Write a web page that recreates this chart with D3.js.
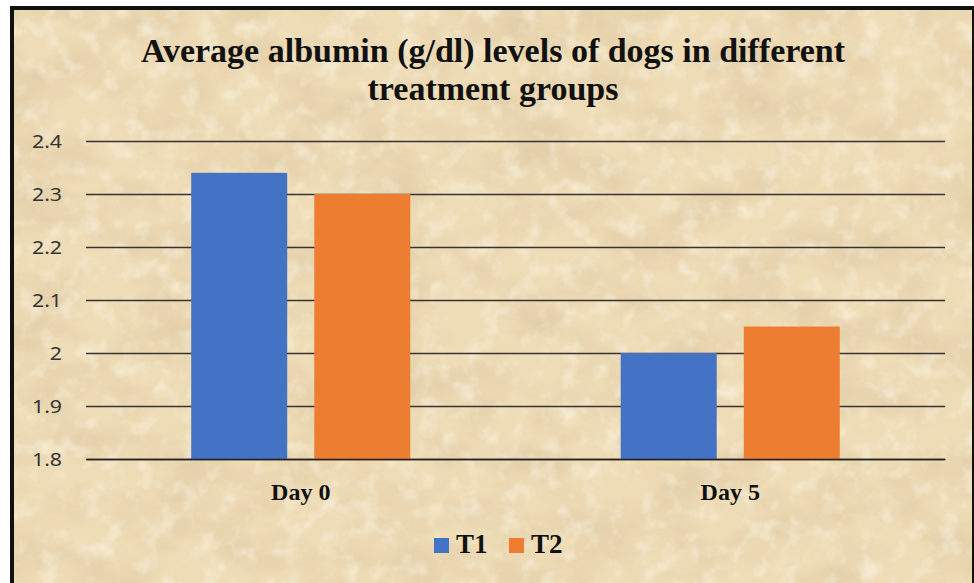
<!DOCTYPE html>
<html>
<head>
<meta charset="utf-8">
<script src="https://cdn.jsdelivr.net/npm/d3@7"></script>
<style>
  body { margin: 0; background: #fff; }
  svg { display: block; }
</style>
</head>
<body>
<div id="chart"></div>
<script>
const categories = ["Day 0", "Day 5"];
const series = ["T1", "T2"];
const t1Values = [2.34, 2.0];
const t2Values = [2.3, 2.05];
const yTicks = [1.8, 1.9, 2.0, 2.1, 2.2, 2.3, 2.4];
const titleLines = ["Average albumin (g/dl) levels of dogs in different", "treatment groups"];

const colors = { T1: "#4472C4", T2: "#ED7D31" };
const values = { T1: t1Values, T2: t2Values };

let w = 974;
let h = 583;
let plotLeft = 86;
let plotRight = 945;
let plotTop = 141;
let plotBottom = 459;
let serif = "'Liberation Serif', 'Times New Roman', serif";

let svg = d3.select("#chart").append("svg").attr("width", w).attr("height", h);

let defs = svg.append("defs");
let f = defs.append("filter").attr("id", "paper").attr("x", 0).attr("y", 0).attr("width", "100%").attr("height", "100%");
f.append("feTurbulence").attr("type", "fractalNoise").attr("baseFrequency", "0.014 0.022").attr("numOctaves", 5).attr("seed", 7);
f.append("feColorMatrix").attr("type", "matrix")
  .attr("values", "0 0 0 0 0.70  0 0 0 0 0.55  0 0 0 0 0.34  1.3 0 0 0 -0.52");
let f2 = defs.append("filter").attr("id", "spots").attr("x", 0).attr("y", 0).attr("width", "100%").attr("height", "100%");
f2.append("feTurbulence").attr("type", "fractalNoise").attr("baseFrequency", "0.05").attr("numOctaves", 3).attr("seed", 2);
f2.append("feColorMatrix").attr("type", "matrix")
  .attr("values", "0 0 0 0 1  0 0 0 0 0.98  0 0 0 0 0.9  1.2 0 0 0 -0.6");

// frame + parchment background
svg.append("rect").attr("x", 10).attr("y", 6).attr("width", w - 10).attr("height", h - 6).attr("fill", "#111");
svg.append("rect").attr("x", 14).attr("y", 10).attr("width", w - 16).attr("height", h - 10).attr("fill", "#eedcb6");
svg.append("rect").attr("x", 14).attr("y", 10).attr("width", w - 16).attr("height", h - 10).attr("filter", "url(#paper)");
svg.append("rect").attr("x", 14).attr("y", 10).attr("width", w - 16).attr("height", h - 10).attr("filter", "url(#spots)");

let x0 = d3.scaleBand().domain(categories).range([plotLeft, plotRight]);
let groupWidth = x0.bandwidth() * 0.51;
let x1 = d3.scaleBand().domain(series).range([0, groupWidth]).paddingInner(0.22);

let y = d3.scaleLinear().domain([1.8, 2.4]).range([plotBottom, plotTop]);

// title
svg.append("text")
  .attr("text-anchor", "middle")
  .attr("font-family", serif)
  .attr("font-weight", "bold")
  .attr("font-size", 34)
  .attr("fill", "#111")
  .selectAll("tspan")
  .data(titleLines)
  .join("tspan")
  .attr("x", 493)
  .attr("y", (d, i) => 62 + i * 38)
  .text(d => d);

// gridlines + y labels
let yAxis = d3.axisLeft(y).tickValues(yTicks).tickSize(-(plotRight - plotLeft)).tickPadding(24)
  .tickFormat(d => d3.format("")(+d.toFixed(1)));
let gy = svg.append("g").attr("transform", `translate(${plotLeft},0)`).call(yAxis);
gy.select(".domain").remove();
gy.selectAll(".tick line").attr("stroke", "#3a3330").attr("stroke-width", 1.5);
gy.selectAll(".tick text")
  .attr("font-family", "'Noto Sans', 'Open Sans', sans-serif")
  .attr("font-size", 19)
  .attr("fill", "#333")
  .attr("dy", "0.34em")
  .attr("x", null)
  .attr("transform", "translate(-24,0) scale(1.12,1)");

// bars
let groups = svg.append("g").selectAll("g")
  .data(categories)
  .join("g")
  .attr("transform", d => `translate(${x0(d) + (x0.bandwidth() - groupWidth) / 2},0)`);

groups.selectAll("rect")
  .data((d, i) => series.map(s => ({ s: s, v: values[s][i] })))
  .join("rect")
  .attr("x", d => x1(d.s))
  .attr("y", d => y(d.v))
  .attr("width", x1.bandwidth())
  .attr("height", d => y(1.8) - y(d.v))
  .attr("fill", d => colors[d.s]);

// baseline axis
let xAxis = d3.axisBottom(x0).tickSize(0).tickPadding(24);
let gx = svg.append("g").attr("transform", `translate(0,${plotBottom})`).call(xAxis);
gx.select(".domain").attr("stroke", "#222").attr("stroke-width", 1.5);
gx.selectAll(".tick text")
  .attr("font-family", serif)
  .attr("font-weight", "bold")
  .attr("font-size", 24)
  .attr("fill", "#111");

// legend
let legend = svg.append("g").attr("transform", "translate(434,538)");
let item = legend.selectAll("g")
  .data(series)
  .join("g")
  .attr("transform", (d, i) => `translate(${i * 75},0)`);
item.append("rect").attr("width", 15).attr("height", 15).attr("fill", d => colors[d]);
item.append("text")
  .attr("x", 22)
  .attr("y", 15)
  .attr("font-family", serif)
  .attr("font-weight", "bold")
  .attr("font-size", 27)
  .attr("fill", "#111")
  .text(d => d);
</script>
</body>
</html>
